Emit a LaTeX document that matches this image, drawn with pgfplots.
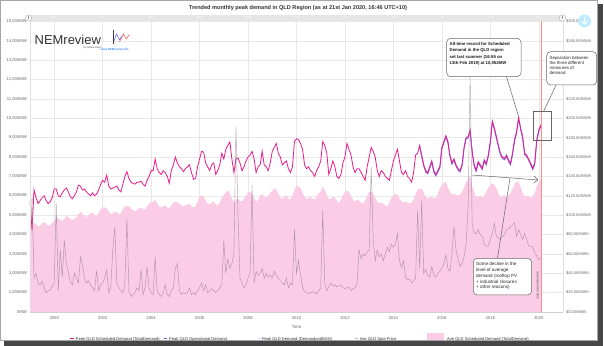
\documentclass[border=0pt]{standalone}
\usepackage{pgfplots}
\pgfplotsset{compat=1.18}
\usepackage{pgfplotstable}
\usepackage{fontspec}
\setmainfont{Liberation Sans}
\usetikzlibrary{arrows.meta}

\definecolor{mag}{RGB}{232,28,140}
\definecolor{opblue}{RGB}{120,90,225}
\definecolor{nsg}{RGB}{205,220,250}
\definecolor{areapink}{RGB}{250,204,229}
\definecolor{pricegray}{RGB}{150,125,140}
\definecolor{gridc}{RGB}{232,232,232}
\definecolor{lab}{RGB}{102,102,102}
\definecolor{txt}{RGB}{51,51,51}

\pgfplotstableread{
Y M S A P
1998 12 5780 4000 55
1999 1 4230 4400 118
1999 2 6300 4600 35
1999 3 5900 4550 40
1999 4 5600 4400 30
1999 5 5750 4450 28
1999 6 5900 4600 32
1999 7 6000 4650 25
1999 8 5750 4550 20
1999 9 5600 4450 22
1999 10 5700 4500 23
1999 11 5900 4600 27
1999 12 6350 4750 30
2000 1 6350 4800 112
2000 2 6000 4850 22
2000 3 5950 4750 64
2000 4 6150 4700 36
2000 5 6300 4800 74
2000 6 6400 4950 50
2000 7 6200 4900 41
2000 8 5950 4800 31
2000 9 5850 4750 28
2000 10 6000 4800 40
2000 11 6200 4900 35
2000 12 6550 5050 30
2001 1 6500 5170 57
2001 2 6300 5100 48
2001 3 6350 4950 35
2001 4 6200 4900 30
2001 5 6100 5000 32
2001 6 6000 5100 28
2001 7 6150 5150 25
2001 8 6000 5000 22
2001 9 6100 4950 43
2001 10 6300 5100 22
2001 11 6600 5300 28
2001 12 6800 5400 30
2002 1 6700 5400 35
2002 2 7070 5350 43
2002 3 6500 5200 20
2002 4 6350 5050 25
2002 5 6400 5100 64
2002 6 6450 5200 88
2002 7 6500 5150 30
2002 8 6300 5050 25
2002 9 6200 5100 22
2002 10 6600 5300 20
2002 11 7000 5450 30
2002 12 7250 5500 97
2003 1 6900 5450 22
2003 2 6700 5350 16
2003 3 6650 5250 18
2003 4 6600 5200 20
2003 5 6700 5250 25
2003 6 6700 5350 22
2003 7 6750 5400 44
2003 8 6600 5300 18
2003 9 6500 5300 25
2003 10 6800 5450 47
2003 11 7000 5600 25
2003 12 7300 5650 20
2004 1 7300 5700 18
2004 2 7900 5780 57
2004 3 7400 5600 22
2004 4 7200 5450 18
2004 5 7100 5400 16
2004 6 7300 5450 20
2004 7 7200 5500 28
2004 8 7000 5400 18
2004 9 6650 5350 16
2004 10 7300 5500 22
2004 11 7600 5650 25
2004 12 8000 5700 45
2005 1 7700 5650 50
2005 2 7500 5600 22
2005 3 7400 5500 18
2005 4 7250 5450 20
2005 5 7400 5500 19
2005 6 7500 5550 20
2005 7 7600 5600 25
2005 8 7200 5450 18
2005 9 6850 5400 20
2005 10 6900 5450 18
2005 11 7500 5700 22
2005 12 7900 5950 25
2006 1 8300 6030 30
2006 2 8250 5950 22
2006 3 7700 5750 28
2006 4 7500 5600 20
2006 5 7300 5550 22
2006 6 7600 5650 24
2006 7 7700 5700 22
2006 8 7100 5550 20
2006 9 7300 5500 22
2006 10 7600 5650 25
2006 11 8200 5900 28
2006 12 7900 6050 74
2007 1 8400 6150 40
2007 2 8600 6300 55
2007 3 8780 6100 45
2007 4 7900 5850 50
2007 5 7200 5700 60
2007 6 7900 5800 191
2007 7 7950 5850 102
2007 8 7700 5750 35
2007 9 7300 5700 30
2007 10 7500 5850 25
2007 11 7800 6000 28
2007 12 8000 6150 35
2008 1 8100 6200 40
2008 2 8300 6100 131
2008 3 7900 5850 30
2008 4 7200 5700 42
2008 5 7500 5800 38
2008 6 7600 6000 40
2008 7 8300 6100 45
2008 8 7600 5950 35
2008 9 7500 5900 40
2008 10 7300 6000 36
2008 11 7700 6150 38
2008 12 8300 6250 35
2009 1 8500 6380 42
2009 2 8700 6300 38
2009 3 8200 6100 35
2009 4 8000 5900 32
2009 5 7600 5850 30
2009 6 7700 5950 28
2009 7 7800 6000 35
2009 8 7400 5850 25
2009 9 7200 5800 30
2009 10 7500 6000 28
2009 11 8800 6300 85
2009 12 8950 6550 40
2010 1 8900 6470 53
2010 2 8700 6400 38
2010 3 8400 6150 26
2010 4 7600 5950 21
2010 5 7400 5850 20
2010 6 7500 5900 19
2010 7 7300 5950 20
2010 8 7200 5850 21
2010 9 7000 5800 20
2010 10 7300 5950 19
2010 11 7500 6150 22
2010 12 7800 6200 25
2011 1 8800 6470 105
2011 2 8600 6300 30
2011 3 8200 6050 22
2011 4 7100 5800 26
2011 5 7400 5850 30
2011 6 7800 5950 27
2011 7 7500 5900 28
2011 8 7000 5750 26
2011 9 6900 5610 27
2011 10 7100 5800 28
2011 11 7700 6050 25
2011 12 8000 6200 24
2012 1 8700 6250 25
2012 2 8400 6200 26
2012 3 8100 6000 22
2012 4 7500 5800 24
2012 5 7200 5700 25
2012 6 7400 5800 30
2012 7 7400 5750 64
2012 8 7200 5650 55
2012 9 7000 5600 60
2012 10 6800 5750 58
2012 11 7500 6000 62
2012 12 8000 6200 64
2013 1 8500 6200 150
2013 2 8300 6100 74
2013 3 8000 5900 53
2013 4 7300 5700 64
2013 5 7000 5600 57
2013 6 7300 5650 60
2013 7 7200 5600 53
2013 8 7000 5500 60
2013 9 6900 5440 67
2013 10 6800 5650 62
2013 11 7300 5900 70
2013 12 7800 6000 67
2014 1 8100 6100 70
2014 2 8400 6050 81
2014 3 7800 5850 53
2014 4 7200 5700 46
2014 5 7100 5650 53
2014 6 7300 5700 36
2014 7 7000 5650 33
2014 8 6900 5600 34
2014 9 6700 5650 30
2014 10 7200 5800 32
2014 11 8100 6100 35
2014 12 8200 6300 105
2015 1 8600 6350 45
2015 2 8100 6380 115
2015 3 7600 6150 40
2015 4 7300 5950 44
2015 5 7200 5850 38
2015 6 7500 5900 36
2015 7 7800 5950 47
2015 8 7300 5850 38
2015 9 7100 5900 36
2015 10 7300 6100 40
2015 11 7500 6400 42
2015 12 8500 6550 45
2016 1 8800 6650 50
2016 2 9100 6730 59
2016 3 8800 6450 45
2016 4 8100 6200 42
2016 5 7700 6050 60
2016 6 7900 6100 88
2016 7 7600 6050 64
2016 8 7400 6000 55
2016 9 7300 6050 47
2016 10 7600 6200 50
2016 11 8500 6450 57
2016 12 9000 6700 70
2017 1 9050 6850 109
2017 2 9400 7070 245
2017 3 8300 6500 91
2017 4 7600 6200 81
2017 5 7330 5950 81
2017 6 7760 5950 85
2017 7 7600 6000 80
2017 8 7420 5900 78
2017 9 7850 6000 70
2017 10 7670 6200 68
2017 11 8100 6400 68
2017 12 8800 6550 75
2018 1 9850 6640 81
2018 2 9500 6550 92
2018 3 9050 6400 78
2018 4 8600 6100 76
2018 5 8190 5950 75
2018 6 8000 6000 78
2018 7 7930 6050 80
2018 8 8100 5950 85
2018 9 7850 6000 86
2018 10 7670 6150 88
2018 11 8200 6350 90
2018 12 8900 6600 92
2019 1 9300 6730 78
2019 2 10052 6700 85
2019 3 9500 6450 80
2019 4 9050 6150 75
2019 5 8190 5950 81
2019 6 8100 6000 75
2019 7 7900 5950 68
2019 8 7670 5900 68
2019 9 7420 5950 67
2019 10 7700 6150 61
2019 11 8880 6500 58
2019 12 9400 6700 54
2020 1 9650 6810 56
}\maindata

\pgfplotstableread{
Y M O N
2015 1 8530 8650
2015 2 8030 8150
2015 3 7530 7650
2015 4 7230 7350
2015 5 7130 7250
2015 6 7430 7550
2015 7 7730 7850
2015 8 7230 7350
2015 9 7030 7150
2015 10 7230 7350
2015 11 7430 7550
2015 12 8430 8550
2016 1 8730 8850
2016 2 9030 9150
2016 3 8730 8850
2016 4 8030 8150
2016 5 7630 7750
2016 6 7830 7950
2016 7 7530 7650
2016 8 7330 7450
2016 9 7230 7350
2016 10 7530 7650
2016 11 8430 8550
2016 12 8930 9050
2017 1 8980 9100
2017 2 9330 9450
2017 3 8230 8350
2017 4 7530 7650
2017 5 7260 7380
2017 6 7690 7810
2017 7 7530 7650
2017 8 7350 7470
2017 9 7780 7900
2017 10 7600 7720
2017 11 8030 8150
2017 12 8730 8850
2018 1 9780 9900
2018 2 9430 9550
2018 3 8980 9100
2018 4 8530 8650
2018 5 8120 8240
2018 6 7930 8050
2018 7 7860 7980
2018 8 8030 8150
2018 9 7780 7900
2018 10 7600 7720
2018 11 8130 8250
2018 12 8830 8950
2019 1 9230 9350
2019 2 9980 10100
2019 3 9430 9550
2019 4 8980 9100
2019 5 8120 8240
2019 6 8030 8150
2019 7 7830 7950
2019 8 7600 7720
2019 9 7350 7470
2019 10 7630 7750
2019 11 8810 8930
2019 12 9330 9450
2020 1 9580 9700
}\recentdata

\begin{document}
\begin{tikzpicture}[font=\fontsize{4.3}{5}\selectfont]
\useasboundingbox (0,0) rectangle (604bp,346bp);
% shadow and panel
\fill[black!72] (4bp,0bp) rectangle (603bp,342bp);
\fill[white] (0bp,5bp) rectangle (597.5bp,346bp);
\draw[black!35, line width=0.5bp] (0.3bp,5.3bp) rectangle (597.2bp,345.7bp);

\begin{axis}[
  at={(30bp,34bp)}, anchor=south west,
  width=533bp, height=290.5bp, scale only axis,
  xmin=1999, xmax=2021, ymin=0, ymax=15000,
  scaled ticks=false,
  axis line style={draw=none},
  xtick={2000,2002,2004,2006,2008,2010,2012,2014,2016,2018,2020},
  xticklabels={2000,2002,2004,2006,2008,2010,2012,2014,2016,2018,2020},
  ytick={0,1000,2000,3000,4000,5000,6000,7000,8000,9000,10000,11000,12000,13000,14000,15000},
  yticklabels={0MW,{1,000MW},{2,000MW},{3,000MW},{4,000MW},{5,000MW},{6,000MW},{7,000MW},{8,000MW},{9,000MW},{10,000MW},{11,000MW},{12,000MW},{13,000MW},{14,000MW},{15,000MW}},
  major tick length=0pt,
  grid=major, grid style={gridc, line width=0.4bp},
  tick label style={font=\fontsize{4.2}{5}\selectfont, text=lab},
  yticklabel style={anchor=east, inner sep=0pt, xshift=-3bp},
  xticklabel style={anchor=north, inner sep=0pt, yshift=-4bp},
  clip=true,
]
\addplot[draw=none, fill=areapink] table[x expr=\thisrow{Y}+\thisrow{M}/12, y=A] {\maindata} \closedcycle;
\addplot[nsg, line width=0.6bp] table[x expr=\thisrow{Y}+\thisrow{M}/12, y=N] {\recentdata};
\addplot[opblue, line width=0.8bp] table[x expr=\thisrow{Y}+\thisrow{M}/12, y=O] {\recentdata};
\addplot[mag, line width=0.8bp] table[x expr=\thisrow{Y}+\thisrow{M}/12, y=S] {\maindata};
\draw[red!45, line width=0.5bp] (axis cs:2020.083,0) -- (axis cs:2020.083,15000);
\end{axis}

\begin{axis}[
  at={(30bp,34bp)}, anchor=south west,
  width=533bp, height=290.5bp, scale only axis,
  xmin=1999, xmax=2021, ymin=0, ymax=300,
  scaled ticks=false,
  axis y line*=right, axis x line=none,
  axis line style={draw=none},
  ytick={0,20,40,60,80,100,120,140,160,180,200,220,280,300},
  yticklabels={\$0.00/MWh,\$20.00/MWh,\$40.00/MWh,\$60.00/MWh,\$80.00/MWh,\$100.00/MWh,\$120.00/MWh,\$140.00/MWh,\$160.00/MWh,\$180.00/MWh,\$200.00/MWh,\$220.00/MWh,\$280.00/MWh,\$300.00/MWh},
  major tick length=0pt,
  tick label style={font=\fontsize{4.0}{5}\selectfont, text=lab},
  yticklabel style={anchor=west, inner sep=0pt, xshift=3bp},
  clip=true,
]
\addplot[pricegray, line width=0.45bp, opacity=0.7] table[x expr=\thisrow{Y}+\thisrow{M}/12, y=P] {\maindata};
\end{axis}

\begin{scope}[x=1bp, y=-1bp, yshift=346bp]
% axis lines
\draw[black!18, line width=0.5bp] (30,312) -- (563,312);
\draw[black!12, line width=0.4bp] (30,21.5) -- (30,312);
\draw[black!12, line width=0.4bp] (563,21.5) -- (563,312);
% title
\node[font=\bfseries\fontsize{5.6}{6}\selectfont, text=txt] at (298,8) {Trended monthly peak demand in QLD Region (as at 21st Jan 2020, 16:46 UTC+10)};
% navigator bar
\fill[black!10] (27,15) rectangle (565,21);
\foreach \yr/\xx in {2000/54.2,2002/102.7,2004/151.1,2006/199.6,2008/248.0,2010/296.5,2012/345.0,2014/393.4,2016/441.9,2018/490.3,2020/538.8}
  \node[font=\fontsize{2.8}{3}\selectfont, text=white] at (\xx,18) {\yr};
\draw[black!35, fill=white, line width=0.4bp] (28.5,18) circle (3.2);
\draw[black!35, fill=white, line width=0.4bp] (562.5,18) circle (3.2);
\draw[black!45, line width=0.3bp] (28.5,16.5) -- (28.5,19.5) (562.5,16.5) -- (562.5,19.5);
% download button
\fill[blue!30!cyan!25!white] (584.5,21) circle (6.5);
\draw[white, line width=1bp] (584.5,17.5) -- (584.5,23.5);
\draw[white, line width=1bp] (582,21.5) -- (584.5,24) -- (587,21.5);
% logo
\node[anchor=west, inner sep=0, font=\fontsize{13}{14}\selectfont, text=black!80] at (34.5,39.5) {NEMreview};
\node[anchor=west, inner sep=0, font=\fontsize{2.5}{3}\selectfont, text=black!70] at (83.5,47.8) {by Global-Roam};
\node[anchor=west, inner sep=0, font=\fontsize{3}{3.5}\selectfont, text=blue!60!cyan] at (100.5,49.5) {www.NEMreview.info};
\draw[black!75, line width=0.5bp] (112.8,30.5) -- (112.8,44);
\draw[blue!70, line width=0.45bp] (114,41) -- (116.5,34) -- (119.5,40) -- (122,36);
\draw[red!75, line width=0.45bp] (119.5,42) -- (123.5,34) -- (126,39) -- (129.5,34.5);
% current point in time
\node[rotate=-90, anchor=west, inner sep=0, font=\fontsize{3.2}{4}\selectfont, text=black!75] at (537.6,271) {current point in time};
% callout 1
\draw[black!60, line width=0.5bp] (506.5,76.7) -- (518.3,115.5);
\draw[fill=white, draw=black!60, rounded corners=4bp, line width=0.5bp] (446.7,38.3) rectangle (521,76.7);
\node[anchor=north west, align=left, inner sep=0, font=\bfseries\fontsize{4.3}{6.6}\selectfont, text=black!90] at (449.5,41.8) {All-time record for Scheduled\\Demand in the QLD region\\set last summer (16:55 on\\13th Feb 2019) at 10,052MW};
% callout 2
\draw[black!60, line width=0.5bp] (533.3,111.7) rectangle (551.7,140);
\draw[black!60, line width=0.5bp] (556,85) -- (543.5,111.7);
\draw[fill=white, draw=black!60, rounded corners=4bp, line width=0.5bp] (546.7,51.7) rectangle (596.7,85);
\node[anchor=north west, align=left, inner sep=0, font=\fontsize{4.4}{5}\selectfont, text=black!85] at (549.5,55.8) {Separation between\\the three different\\measures of\\demand};
% decline arrow and callout 3
\draw[black!60, line width=0.5bp, -{Straight Barb[length=4bp,width=7bp]}] (471.7,175) -- (538.3,180);
\draw[black!60, line width=0.5bp] (497.5,258.3) -- (510,178);
\draw[fill=white, draw=black!60, rounded corners=4bp, line width=0.5bp] (473.3,258.3) rectangle (531.7,295);
\node[anchor=north west, align=left, inner sep=0, font=\fontsize{4.6}{5.8}\selectfont, text=black!85] at (476,262.3) {Some decline in the\\level of average\\demand (rooftop PV\\+ industrial closures\\+ other reasons)};
% axis title
\node[text=lab, font=\fontsize{4.3}{5}\selectfont] at (296.5,326.5) {Time};
% legend
\draw[mag, line width=1bp] (70,339) -- (74,339);
\node[anchor=west, inner sep=0, text=txt, font=\fontsize{4.1}{5}\selectfont] at (75.8,339) {Peak QLD Scheduled Demand (TotalDemand)};
\draw[opblue, line width=1bp] (163.5,339) -- (167,339);
\node[anchor=west, inner sep=0, text=txt, font=\fontsize{4.1}{5}\selectfont] at (169,339) {Peak QLD Operational Demand};
\draw[nsg, line width=1bp] (257.5,339) -- (260.5,339);
\node[anchor=west, inner sep=0, text=txt, font=\fontsize{4.1}{5}\selectfont] at (261.8,339) {Peak QLD Demand (DemandandNSG)};
\draw[pricegray!55, line width=1bp] (354.5,339) -- (357.5,339);
\node[anchor=west, inner sep=0, text=txt, font=\fontsize{4.1}{5}\selectfont] at (359.6,339) {Ave QLD Spot Price};
\fill[areapink] (427,333) rectangle (444,340.5);
\node[anchor=west, inner sep=0, text=txt, font=\fontsize{4.1}{5}\selectfont] at (447,339) {Ave QLD Scheduled Demand (TotalDemand)};
\end{scope}
\end{tikzpicture}
\end{document}
